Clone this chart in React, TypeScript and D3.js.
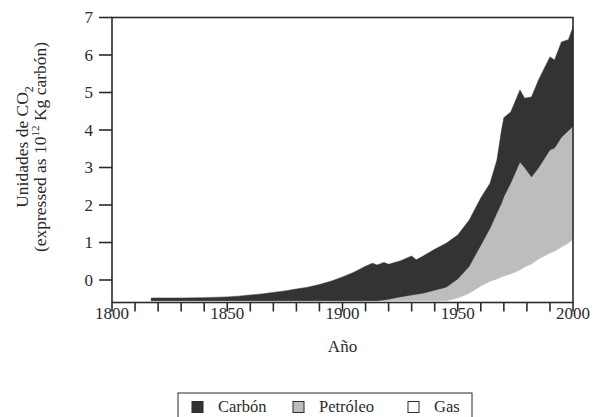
import * as React from "react";
import { area, range, scaleLinear, stack, stackOrderNone, stackOffsetNone } from "d3";

// years
const years = [
  1817, 1820, 1830, 1840, 1850, 1855, 1860, 1865, 1870, 1875, 1880, 1885, 1890, 1895,
  1900, 1905, 1910, 1913, 1915, 1918, 1920, 1925, 1930, 1932, 1935, 1940, 1945, 1950,
  1955, 1960, 1964, 1967, 1969, 1970, 1973, 1977, 1979, 1982, 1985, 1990, 1992, 1995,
  1998, 2000,
];

const gas = [
  0, 0, 0, 0, 0, 0, 0, 0, 0, 0, 0, 0, 0, 0,
  0, 0, 0, 0, 0, 0, 0, 0, 0, 0, 0, 0, 0, 0.07,
  0.2, 0.39, 0.52, 0.58, 0.63, 0.66, 0.71, 0.82, 0.9, 0.98, 1.11, 1.27, 1.32, 1.43,
  1.54, 1.64,
];

const petroleo = [
  0, 0, 0, 0, 0, 0, 0, 0, 0, 0, 0, 0, 0, 0,
  0, 0, 0, 0, 0, 0.02, 0.04, 0.1, 0.15, 0.17, 0.2, 0.28, 0.36, 0.51,
  0.72, 1.09, 1.41, 1.76, 1.97, 2.11, 2.43, 2.88, 2.65, 2.32, 2.43, 2.75, 2.75, 2.93,
  2.99, 3.01,
];

const carbon = [
  0.07, 0.07, 0.07, 0.08, 0.1, 0.12, 0.15, 0.18, 0.22, 0.26, 0.31, 0.36, 0.43, 0.52,
  0.63, 0.76, 0.92, 1.0, 0.95, 1.0, 0.93, 0.96, 1.04, 0.92, 0.99, 1.09, 1.17, 1.17,
  1.23, 1.26, 1.2, 1.41, 1.95, 2.11, 1.89, 1.92, 1.85, 2.13, 2.34, 2.48, 2.35, 2.54,
  2.43, 2.64,
];

const yTicks = [0, 1, 2, 3, 4, 5, 6, 7];
const xLabels = [1800, 1850, 1900, 1950, 2000];
const legendItems = ["Carbón", "Petróleo", "Gas"];

// the printed 0 sits above the data floor in the original figure
const BASE = -0.55;

const W = 596;
const H = 417;
const font = "Liberation Serif, DejaVu Serif, serif";
const ink = "#2b2b2b";

export default function App() {
  const x = scaleLinear().domain([1800, 2000]).range([112, 573]);
  const y = scaleLinear().domain([-0.6, 7]).range([302.5, 17.5]);

  const rows = years.map((yr, i) => ({ year: yr, gas: gas[i], petroleo: petroleo[i], carbon: carbon[i] }));
  const series = stack<any>()
    .keys(["gas", "petroleo", "carbon"])
    .order(stackOrderNone)
    .offset(stackOffsetNone)(rows);

  const shape = area<any>()
    .x((d) => x(d.data.year))
    .y0((d) => y(BASE + d[0]))
    .y1((d) => y(BASE + d[1]));

  const fills: Record<string, string> = { gas: "#ffffff", petroleo: "#bdbdbd", carbon: "#333333" };
  const legendFill = ["#333333", "#bdbdbd", "#ffffff"];
  const legendX = [192, 293, 408];

  const [x0, x1] = x.range();
  const [yb, yt] = y.range();
  const titleY = 147;

  return (
    <svg width={W} height={H} style={{ position: "absolute", left: 0, top: 0, background: "#fff", fontFamily: font }}>
      {series.map((s) => (
        <path key={s.key} d={shape(s) || ""} fill={fills[s.key]} stroke={fills[s.key]} strokeWidth={0.5} />
      ))}

      {/* frame */}
      <rect x={x0} y={yt} width={x1 - x0} height={yb - yt} fill="none" stroke={ink} strokeWidth={1.6} />

      {/* y axis */}
      {yTicks.map((t) => (
        <g key={t}>
          <line x1={x0 - 13} x2={x0} y1={y(t)} y2={y(t)} stroke={ink} strokeWidth={1.6} />
          <text x={x0 - 19} y={y(t)} dy="0.35em" textAnchor="end" fontSize={17} fill={ink}>
            {t}
          </text>
        </g>
      ))}

      {/* x axis */}
      {range(1800, 2001, 10).map((t) => (
        <line key={t} x1={x(t)} x2={x(t)} y1={yb} y2={yb + 9} stroke={ink} strokeWidth={1.6} />
      ))}
      {xLabels.map((t) => (
        <text key={t} x={x(t)} y={yb + 16} textAnchor="middle" fontSize={17} fill={ink}>
          {t}
        </text>
      ))}

      <text x={(x0 + x1) / 2} y={352} textAnchor="middle" fontSize={17} fill={ink}>
        Año
      </text>

      {/* y title */}
      <text transform={`translate(28,${titleY}) rotate(-90)`} textAnchor="middle" fontSize={17.5} fill={ink}>
        Unidades de CO<tspan fontSize={12} dy={5}>2</tspan>
      </text>
      <text transform={`translate(46,${titleY}) rotate(-90)`} textAnchor="middle" fontSize={17.5} fill={ink}>
        (expressed as 10<tspan fontSize={11} dy={-7}>12</tspan>
        <tspan dy={7}> Kg carbón)</tspan>
      </text>

      {/* legend */}
      <rect x={178} y={393} width={294} height={32} fill="#fff" stroke={ink} strokeWidth={1} />
      {legendItems.map((name, i) => (
        <g key={name}>
          <rect x={legendX[i]} y={401.5} width={11} height={11} fill={legendFill[i]} stroke={ink} strokeWidth={1} />
          <text x={legendX[i] + 26} y={412} fontSize={16.5} fill={ink}>
            {name}
          </text>
        </g>
      ))}
    </svg>
  );
}
